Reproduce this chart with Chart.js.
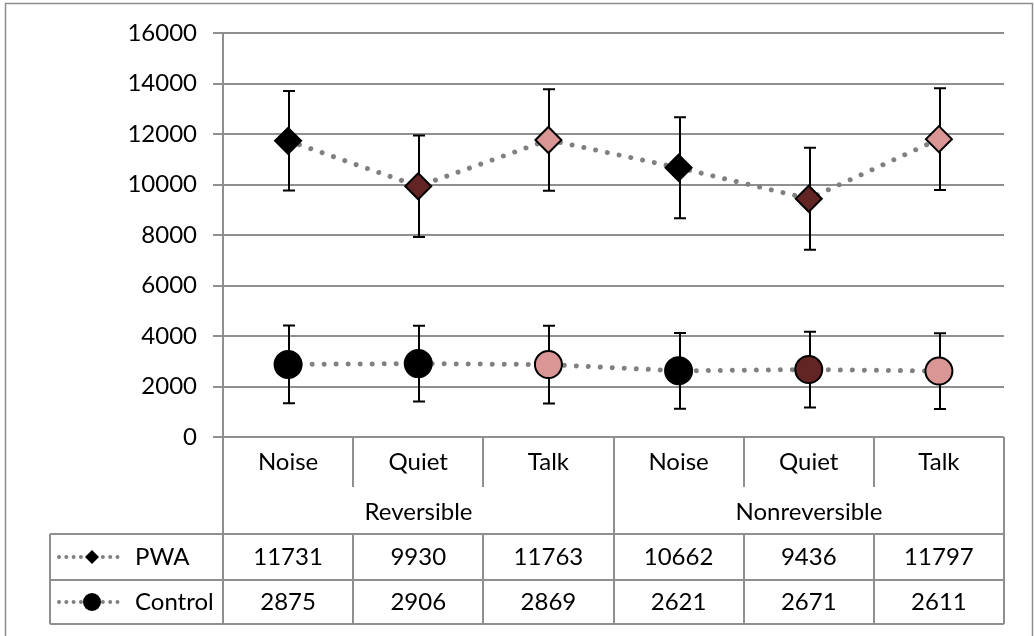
<!DOCTYPE html>
<html>
<head>
<meta charset="utf-8">
<script src="https://cdn.jsdelivr.net/npm/chart.js@4/dist/chart.umd.min.js"></script>
<style>
    body { margin: 0; background: #fff; }
    canvas { display: block; }
</style>
</head>
<body>
<canvas id="chart" width="1034" height="636"></canvas>
<script>
// values
const conditions = ['Noise', 'Quiet', 'Talk', 'Noise', 'Quiet', 'Talk'];
const groups = ['Reversible', 'Nonreversible'];
const pwaValues = [11731, 9930, 11763, 10662, 9436, 11797];
const controlValues = [2875, 2906, 2869, 2621, 2671, 2611];
const pwaErrors = [1970, 2010, 2010, 2000, 2020, 2010];
const controlErrors = [1540, 1500, 1540, 1500, 1500, 1500];
const yTicks = [0, 2000, 4000, 6000, 8000, 10000, 12000, 14000, 16000];

const FONT = '24px Lato';
const GRID = '#8f8f8f';
const DOTS = '#808080';
const BLACK = '#000000';
const DARK_RED = '#632523';
const PINK = '#d99694';

// error bars drawn behind the markers, through the y scale
const errorBarPlugin = {
    id: 'errorBars',
    beforeDatasetsDraw(chart) {
        const ctx = chart.ctx;
        const y = chart.scales.y;
        ctx.save();
        ctx.strokeStyle = '#000';
        ctx.lineWidth = 2;
        chart.data.datasets.forEach((ds, di) => {
            const meta = chart.getDatasetMeta(di);
            meta.data.forEach((pt, i) => {
                const v = ds.data[i];
                const e = ds.errors[i];
                const top = y.getPixelForValue(v + e);
                const bottom = y.getPixelForValue(v - e);
                const x = Math.round(pt.x) + 1;
                ctx.beginPath();
                ctx.moveTo(x, top);
                ctx.lineTo(x, bottom);
                ctx.moveTo(x - 6, top);
                ctx.lineTo(x + 6, top);
                ctx.moveTo(x - 6, bottom);
                ctx.lineTo(x + 6, bottom);
                ctx.stroke();
            });
        });
        ctx.restore();
    }
};

function line(ctx, x1, y1, x2, y2) {
    ctx.beginPath();
    ctx.moveTo(x1, y1);
    ctx.lineTo(x2, y2);
    ctx.stroke();
}

// Excel style data table under the plot, plus the outer frame
const dataTablePlugin = {
    id: 'dataTable',
    afterDraw(chart) {
        const ctx = chart.ctx;
        const x = chart.scales.x;
        const area = chart.chartArea;
        const n = conditions.length;
        const edge = i => Math.round(x.getPixelForValue(i - 0.5));
        const rowCat = area.bottom;
        const rowGroup = rowCat + 50;
        const rowPwa = 534;
        const rowCtrl = 580;
        const rowEnd = 624;
        const legendLeft = 50;

        ctx.save();
        // outer frame
        ctx.strokeStyle = '#8c8c8c';
        ctx.lineWidth = 1.5;
        ctx.strokeRect(5.5, 3.5, 1027, 640);

        ctx.strokeStyle = GRID;
        ctx.lineWidth = 2;
        // vertical lines
        for (let i = 0; i <= n; i++) {
            const px = edge(i);
            if (i === 0 || i === n || i === n / 2) {
                line(ctx, px, rowCat, px, rowEnd);
            } else {
                line(ctx, px, rowCat, px, rowGroup);
                line(ctx, px, rowPwa, px, rowEnd);
            }
        }
        line(ctx, legendLeft, rowPwa, legendLeft, rowEnd);
        // horizontal lines
        line(ctx, legendLeft, rowPwa, edge(n), rowPwa);
        line(ctx, legendLeft, rowCtrl, edge(n), rowCtrl);
        line(ctx, legendLeft, rowEnd, edge(n), rowEnd);

        // texts
        ctx.fillStyle = '#000';
        ctx.font = FONT;
        ctx.textAlign = 'center';
        ctx.textBaseline = 'middle';
        conditions.forEach((c, i) => {
            const cx = x.getPixelForValue(i);
            ctx.fillText(c, cx, rowCat + 25);
            ctx.fillText(String(pwaValues[i]), cx, rowPwa + 23);
            ctx.fillText(String(controlValues[i]), cx, rowCtrl + 22);
        });
        groups.forEach((g, gi) => {
            const cx = (edge(gi * 3) + edge(gi * 3 + 3)) / 2;
            ctx.fillText(g, cx, rowGroup + 25);
        });

        // legend keys
        const keys = [
            { label: chart.data.datasets[0].label, style: 'diamond', y: rowPwa + 23 },
            { label: chart.data.datasets[1].label, style: 'circle', y: rowCtrl + 22 }
        ];
        keys.forEach(k => {
            ctx.save();
            ctx.strokeStyle = DOTS;
            ctx.lineWidth = 4;
            ctx.lineCap = 'round';
            ctx.setLineDash([0.01, 7.3]);
            line(ctx, 59, k.y, 122, k.y);
            ctx.restore();
            ctx.fillStyle = '#000';
            ctx.beginPath();
            if (k.style === 'diamond') {
                ctx.moveTo(92 - 7, k.y);
                ctx.lineTo(92, k.y - 7);
                ctx.lineTo(92 + 7, k.y);
                ctx.lineTo(92, k.y + 7);
                ctx.closePath();
            } else {
                ctx.arc(92, k.y, 9, 0, Math.PI * 2);
            }
            ctx.fill();
            ctx.textAlign = 'left';
            ctx.fillText(k.label, 135, k.y);
        });
        ctx.restore();
    }
};

const ctx = document.getElementById('chart').getContext('2d');
new Chart(ctx, {
    type: 'line',
    data: {
        labels: conditions,
        datasets: [{
            label: 'PWA',
            data: pwaValues,
            errors: pwaErrors,
            borderColor: DOTS,
            borderWidth: 5,
            borderDash: [0.01, 12],
            borderCapStyle: 'round',
            pointStyle: 'rectRot',
            pointRadius: 13,
            pointBorderWidth: 2,
            pointBorderColor: BLACK,
            pointBackgroundColor: [BLACK, DARK_RED, PINK, BLACK, DARK_RED, PINK],
            fill: false,
            tension: 0
        }, {
            label: 'Control',
            data: controlValues,
            errors: controlErrors,
            borderColor: DOTS,
            borderWidth: 5,
            borderDash: [0.01, 12],
            borderCapStyle: 'round',
            pointStyle: 'circle',
            pointRadius: 13.5,
            pointBorderWidth: 2,
            pointBorderColor: BLACK,
            pointBackgroundColor: [BLACK, BLACK, PINK, BLACK, DARK_RED, PINK],
            fill: false,
            tension: 0
        }]
    },
    options: {
        responsive: false,
        animation: false,
        layout: {
            padding: { left: 0, right: 30, top: 33, bottom: 199 }
        },
        plugins: {
            legend: { display: false },
            tooltip: { enabled: false },
            title: { display: false }
        },
        scales: {
            x: {
                display: false,
                offset: true
            },
            y: {
                min: 0,
                max: 16000,
                afterFit: scale => { scale.width = 223; },
                afterBuildTicks: scale => { scale.ticks = yTicks.map(v => ({ value: v })); },
                ticks: {
                    color: '#000',
                    font: { family: 'Lato', size: 24 },
                    padding: 16,
                    callback: v => String(v)
                },
                grid: {
                    color: GRID,
                    lineWidth: 2,
                    tickLength: 10
                },
                border: { color: GRID, width: 2 }
            }
        }
    },
    plugins: [errorBarPlugin, dataTablePlugin]
});
</script>
</body>
</html>
